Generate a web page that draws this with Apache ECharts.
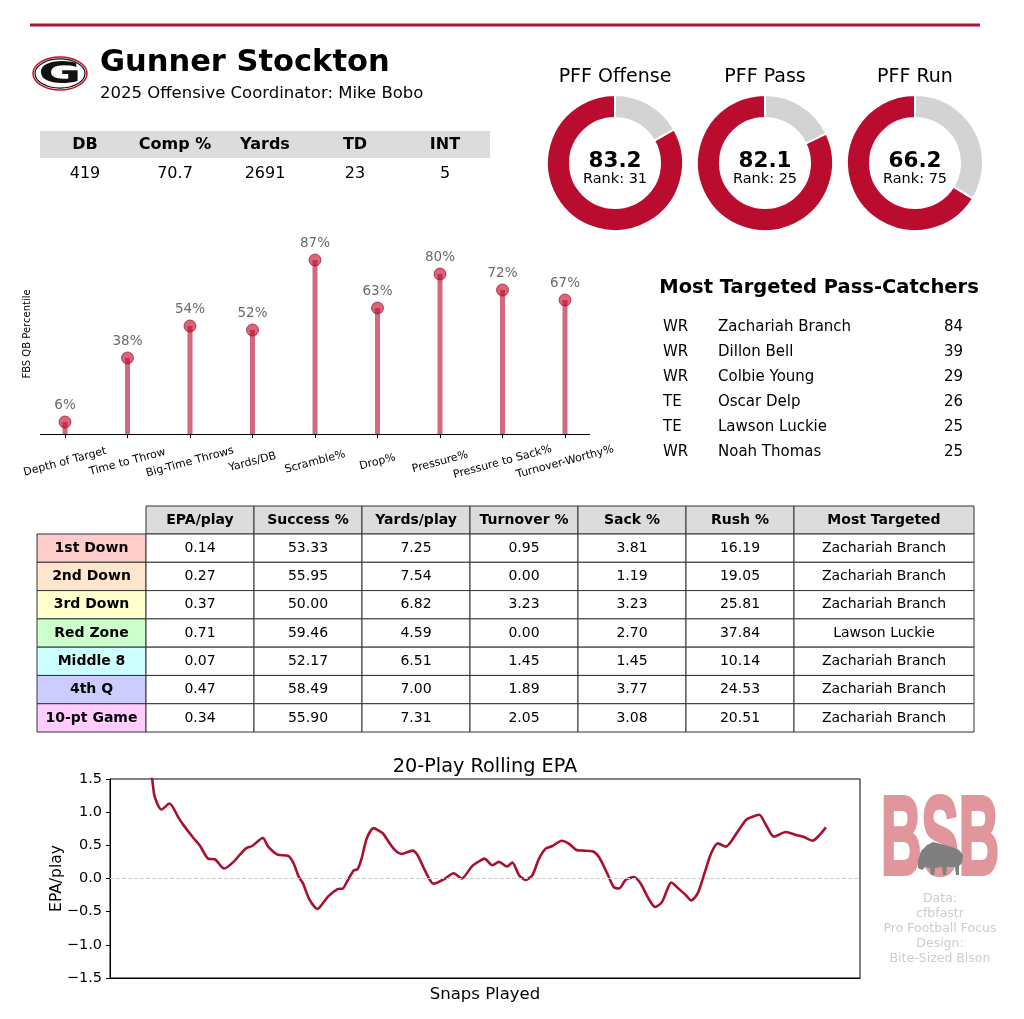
<!DOCTYPE html>
<html><head><meta charset="utf-8">
<script src="https://cdn.jsdelivr.net/npm/echarts@6/dist/echarts.min.js"></script>
<style>html,body{margin:0;padding:0;background:#fff}#c{width:1024px;height:1019px}</style>
</head><body><div id="c"></div>
<script>
// ---------------- data ----------------
const playerName = 'Gunner Stockton';
const subtitleText = '2025 Offensive Coordinator: Mike Bobo';
const statHeaders = ['DB', 'Comp %', 'Yards', 'TD', 'INT'];
const statValues = ['419', '70.7', '2691', '23', '5'];

const pffTitles = ['PFF Offense', 'PFF Pass', 'PFF Run'];
const pffGrades = [83.2, 82.1, 66.2];
const pffRanks = [31, 25, 75];

const metrics = ['Depth of Target', 'Time to Throw', 'Big-Time Throws', 'Yards/DB', 'Scramble%', 'Drop%', 'Pressure%', 'Pressure to Sack%', 'Turnover-Worthy%'];
const percentiles = [6, 38, 54, 52, 87, 63, 80, 72, 67];

const recPositions = ['WR', 'WR', 'WR', 'TE', 'TE', 'WR'];
const recNames = ['Zachariah Branch', 'Dillon Bell', 'Colbie Young', 'Oscar Delp', 'Lawson Luckie', 'Noah Thomas'];
const recTargets = [84, 39, 29, 26, 25, 25];

const situations = ['1st Down', '2nd Down', '3rd Down', 'Red Zone', 'Middle 8', '4th Q', '10-pt Game'];
const tableColumns = ['EPA/play', 'Success %', 'Yards/play', 'Turnover %', 'Sack %', 'Rush %', 'Most Targeted'];
const epaPlay = [0.14, 0.27, 0.37, 0.71, 0.07, 0.47, 0.34];
const successPct = [53.33, 55.95, 50.00, 59.46, 52.17, 58.49, 55.90];
const yardsPlay = [7.25, 7.54, 6.82, 4.59, 6.51, 7.00, 7.31];
const turnoverPct = [0.95, 0.00, 3.23, 0.00, 1.45, 1.89, 2.05];
const sackPct = [3.81, 1.19, 3.23, 2.70, 1.45, 3.77, 3.08];
const rushPct = [16.19, 19.05, 25.81, 37.84, 10.14, 24.53, 20.51];
const mostTargeted = ['Zachariah Branch', 'Zachariah Branch', 'Zachariah Branch', 'Lawson Luckie', 'Zachariah Branch', 'Zachariah Branch', 'Zachariah Branch'];

const snaps = [20,23,26,28,33,39,46,49,57,62,68,73,80,87,96,101,109,113,120,128,132,136,139,144,150,153,158,165,169,172,177,180,183,187,192,196,199,207,213,221,225,231,237,245,252,258,266,272,275,281,286,292,296,301,306,311,316,321,326,333,338,344,349,356,361,367,372,376,381,387,392,398,403,408,412,415,421,426,430,435,440,445,450,456,464,471,476,481,486,492,501,508,514,521,526,531];
const rollingEpa = [2.10,1.78,1.50,1.23,1.04,1.13,0.91,0.82,0.61,0.49,0.30,0.29,0.15,0.25,0.45,0.49,0.61,0.48,0.36,0.34,0.23,0.02,-0.07,-0.32,-0.46,-0.40,-0.27,-0.16,-0.15,-0.05,0.12,0.14,0.30,0.61,0.76,0.72,0.68,0.45,0.37,0.42,0.35,0.10,-0.08,-0.01,0.08,0.00,0.19,0.27,0.30,0.20,0.25,0.18,0.24,0.05,-0.02,0.05,0.30,0.45,0.49,0.57,0.53,0.43,0.42,0.41,0.32,0.08,-0.13,-0.15,-0.02,0.02,-0.07,-0.30,-0.43,-0.36,-0.17,-0.06,-0.16,-0.25,-0.33,-0.22,0.08,0.38,0.53,0.48,0.68,0.88,0.93,0.96,0.81,0.63,0.70,0.66,0.63,0.57,0.65,0.77];
const epaTicks = [-1.5, -1.0, -0.5, 0.0, 0.5, 1.0, 1.5];
const creditLines = ['Data:', 'cfbfastr', 'Pro Football Focus', 'Design:', 'Bite-Sized Bison'];

// ---------------- styles ----------------
const FF = 'DejaVu Sans';
const RED = '#ba0c2f';
const situationColors = ['#ffcccc', '#ffe5cc', '#ffffcc', '#ccffcc', '#ccffff', '#ccccff', '#ffccff'];

const g = [];
function txt(x, y, text, size, opt) {
  g.push(Object.assign({
    type: 'text', x: x, y: y, silent: true,
    style: Object.assign({ text: text, fill: '#000', fontFamily: FF, fontSize: size, align: 'center', verticalAlign: 'middle' }, (opt && opt.style) || {})
  }, (opt && opt.el) || {}));
}
function rect(x, y, w, h, fill, stroke) {
  g.push({ type: 'rect', silent: true, shape: { x: x, y: y, width: w, height: h },
    style: { fill: fill, stroke: stroke || null, lineWidth: stroke ? 1 : 0 } });
}

// top rule
g.push({ type: 'line', silent: true, shape: { x1: 30, y1: 25, x2: 980, y2: 25 }, style: { stroke: '#b3102f', lineWidth: 3 } });

// logo
g.push({ type: 'ellipse', silent: true, shape: { cx: 60, cy: 73.5, rx: 27, ry: 16.5 }, style: { fill: '#fff', stroke: '#c8102e', lineWidth: 1.5 } });
g.push({ type: 'ellipse', silent: true, shape: { cx: 60, cy: 73.5, rx: 25, ry: 14.6 }, style: { fill: '#fff', stroke: '#111', lineWidth: 1.2 } });
txt(60, 74.5, 'G', 31, { style: { fontWeight: 'bold', fill: '#111' }, el: { scaleX: 1.7 } });

// header text
txt(100, 63.5, playerName, 30.5, { style: { fontWeight: 'bold', align: 'left' } });
txt(100, 93.5, subtitleText, 16.5, { style: { align: 'left' } });

// stat table
rect(40, 131, 450, 27, '#dcdcdc');
statHeaders.forEach((h, i) => {
  txt(85 + 90 * i, 145, h, 16, { style: { fontWeight: 'bold' } });
  txt(85 + 90 * i, 173.5, statValues[i], 16);
});

// donut labels
pffTitles.forEach((t, i) => {
  const cx = 615 + 150 * i;
  txt(cx, 77, t, 19);
  txt(cx, 161, pffGrades[i].toFixed(1), 21.5, { style: { fontWeight: 'bold' } });
  txt(cx, 179, 'Rank: ' + pffRanks[i], 14.5);
});

// lollipop baseline
g.push({ type: 'line', silent: true, shape: { x1: 40, y1: 434.5, x2: 590, y2: 434.5 }, style: { stroke: '#000', lineWidth: 1.2 } });

// receivers
txt(819, 288, 'Most Targeted Pass-Catchers', 19.5, { style: { fontWeight: 'bold' } });
recNames.forEach((n, i) => {
  const y = 327 + 25 * i;
  txt(663, y, recPositions[i], 15, { style: { align: 'left' } });
  txt(718, y, n, 15, { style: { align: 'left' } });
  txt(944, y, String(recTargets[i]), 15, { style: { align: 'left' } });
});

// situational table
const colEdges = [37, 146, 254, 362, 470, 578, 686, 794, 974];
const rowTop = 534, rowH = 28.29, headTop = 506;
const tableValues = [epaPlay, successPct, yardsPlay, turnoverPct, sackPct, rushPct];
tableColumns.forEach((c, j) => {
  const x0 = colEdges[j + 1], x1 = colEdges[j + 2];
  rect(x0, headTop, x1 - x0, rowTop - headTop, '#dcdcdc', '#333');
  txt((x0 + x1) / 2, (headTop + rowTop) / 2, c, 14, { style: { fontWeight: 'bold' } });
});
situations.forEach((s, i) => {
  const y0 = rowTop + rowH * i;
  rect(colEdges[0], y0, colEdges[1] - colEdges[0], rowH, situationColors[i], '#333');
  txt((colEdges[0] + colEdges[1]) / 2, y0 + rowH / 2, s, 14, { style: { fontWeight: 'bold' } });
  tableColumns.forEach((c, j) => {
    const x0 = colEdges[j + 1], x1 = colEdges[j + 2];
    rect(x0, y0, x1 - x0, rowH, '#fff', '#333');
    const v = j < 6 ? tableValues[j][i].toFixed(2) : mostTargeted[i];
    txt((x0 + x1) / 2, y0 + rowH / 2, v, 14);
  });
});

// rolling chart title
txt(485, 767, '20-Play Rolling EPA', 19.3);

// BSB logo
txt(940, 843, 'BSB', 112, { style: { fontWeight: 'bold', fontFamily: 'Liberation Sans', fill: '#e0969b', stroke: '#e0969b', lineWidth: 4 }, el: { scaleX: 0.5 } });
g.push({ type: 'polygon', silent: true, shape: { points: [[918,860],[921,851],[927,845],[933,842],[941,844],[952,847],[959,850],[963,855],[962,863],[959,866],[959,875],[956,875],[955,867],[947,867],[946,875],[943,875],[942,867],[935,868],[934,875],[931,875],[930,868],[925,867],[922,870],[918,868]] }, style: { fill: '#7f7f7f' } });
creditLines.forEach((c, i) => txt(940, 898.5 + 15 * i, c, 12.5, { style: { fill: '#cccccc' } }));

// ---------------- chart ----------------
const sMin = Math.min(...snaps), sMax = Math.max(...snaps), sPad = 0.05 * (sMax - sMin);
const chart = echarts.init(document.getElementById('c'), null, { renderer: 'canvas' });
const pieSeries = pffGrades.map((gr, i) => ({
  type: 'pie', center: [615 + 150 * i, 163], radius: [45, 68], startAngle: 90, clockwise: true,
  silent: true, label: { show: false }, labelLine: { show: false },
  itemStyle: { borderColor: '#fff', borderWidth: 2 },
  data: [
    { value: +(100 - gr).toFixed(1), itemStyle: { color: '#d3d3d3' } },
    { value: gr, itemStyle: { color: RED } }
  ]
}));

chart.setOption({
  animation: false,
  backgroundColor: '#fff',
  grid: [
    { left: 33.75, top: 234, width: 562.5, height: 200 },
    { left: 110, top: 779, width: 750, height: 199, show: true, borderColor: '#000', borderWidth: 1, backgroundColor: 'transparent' }
  ],
  xAxis: [
    { gridIndex: 0, type: 'category', data: metrics, boundaryGap: true,
      axisLine: { show: false },
      axisTick: { show: true, alignWithLabel: true, length: 4, lineStyle: { color: '#000' } },
      axisLabel: { interval: 0, rotate: 15, align: 'center', verticalAlign: 'middle', margin: 28, fontSize: 11, color: '#000', fontFamily: FF },
      splitLine: { show: false } },
    { gridIndex: 1, type: 'value', min: sMin - sPad, max: sMax + sPad,
      axisLine: { show: true, onZero: false, lineStyle: { color: '#000' } }, axisTick: { show: false }, axisLabel: { show: false }, splitLine: { show: false },
      name: 'Snaps Played', nameLocation: 'middle', nameGap: 8, nameTextStyle: { fontSize: 16.5, color: '#000', fontFamily: FF, verticalAlign: 'top' } }
  ],
  yAxis: [
    { gridIndex: 0, type: 'value', min: 0, max: 100,
      axisLine: { show: false }, axisTick: { show: false }, axisLabel: { show: false }, splitLine: { show: false },
      name: 'FBS QB Percentile', nameLocation: 'middle', nameRotate: 90, nameGap: 1, nameTextStyle: { fontSize: 10, color: '#000', fontFamily: FF } },
    { gridIndex: 1, type: 'value', min: epaTicks[0], max: epaTicks[epaTicks.length - 1], interval: 0.5,
      axisLine: { show: true, onZero: false, lineStyle: { color: '#000' } },
      axisTick: { show: true, length: 4, lineStyle: { color: '#000' } },
      axisLabel: { fontSize: 14.5, color: '#000', fontFamily: FF, margin: 8, formatter: v => (v < 0 ? '\u2212' : '') + Math.abs(v).toFixed(1) },
      splitLine: { show: false },
      name: 'EPA/play', nameLocation: 'middle', nameRotate: 90, nameGap: 45, nameMoveOverlap: false,
      nameTextStyle: { fontSize: 15.5, color: '#000', fontFamily: FF } }
  ],
  graphic: g,
  series: pieSeries.concat([
    { type: 'bar', xAxisIndex: 0, yAxisIndex: 0, data: percentiles, barWidth: 5, silent: true,
      itemStyle: { color: 'rgba(186,12,47,0.62)' } },
    { type: 'scatter', xAxisIndex: 0, yAxisIndex: 0, data: percentiles, symbolSize: 12, silent: true,
      itemStyle: { color: 'rgba(192,16,48,0.8)', borderColor: 'rgba(160,8,36,0.85)', borderWidth: 1 },
      label: { show: true, position: 'top', distance: 3, formatter: p => p.value + '%', fontSize: 13.5, color: '#444', fontFamily: FF } },
    { type: 'line', xAxisIndex: 1, yAxisIndex: 1, data: snaps.map((s, i) => [s, rollingEpa[i]]),
      smooth: 0.25, symbol: 'none', clip: true, silent: true,
      lineStyle: { color: '#a8102f', width: 2.6 },
      markLine: { silent: true, symbol: 'none', label: { show: false },
        lineStyle: { type: 'dashed', color: '#cccccc', width: 1 }, data: [{ yAxis: 0 }] } }
  ])
});
</script>
</body></html>
